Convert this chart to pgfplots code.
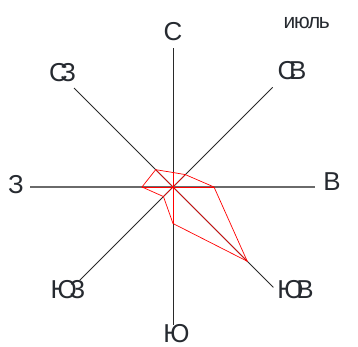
\documentclass[border=0pt]{standalone}
\usepackage{pgfplots}
\pgfplotsset{compat=1.18}
\usepgfplotslibrary{polar}
\usepackage{fontspec}
\setmainfont{Liberation Sans}
\newfontfamily\lblfont{Liberation Sans}[LetterSpace=-28]
\newfontfamily\ttlfont{Liberation Sans}[LetterSpace=-6]
\definecolor{ax}{HTML}{2A2A2A}
\definecolor{axh}{HTML}{6A6A6A}
\definecolor{txt}{HTML}{262A30}
\begin{document}
\begin{tikzpicture}
\path[use as bounding box] (-173bp,-160bp) rectangle (185bp,187bp);
\begin{polaraxis}[at={(0,0)}, anchor=center, scale only axis,
  width=284bp, height=284bp, ymin=0, ymax=142,
  xtick=\empty, ytick=\empty, axis line style={draw=none}, clip=false]
% direction axes
\addplot[ax, line width=0.8bp] coordinates {(0,0) (90,139)};
\addplot[ax, line width=0.8bp] coordinates {(0,0) (270,138)};
\addplot[ax, line width=0.8bp] coordinates {(0,0) (45,141)};
\addplot[ax, line width=0.8bp] coordinates {(0,0) (135,140)};
\addplot[ax, line width=0.8bp] coordinates {(0,0) (225,132)};
\addplot[ax, line width=0.8bp] coordinates {(0,0) (315,142)};
\addplot[axh, line width=1.2bp] coordinates {(0,0) (0,142)};
\addplot[axh, line width=1.2bp] coordinates {(0,0) (180,143)};
% wind rose (July)
\addplot[red, line width=0.7bp] coordinates {(90,14.5) (45,17.5) (0,41) (315,105) (270,36.5) (225,13.5) (180,31) (135,24.5) (90,14.5)};
\addplot[red, line width=0.7bp] coordinates {(0,0) (90,14.5)};
\addplot[red, line width=0.7bp] coordinates {(0,0) (45,17.5)};
\addplot[red, line width=0.7bp] coordinates {(0,0) (0,41)};
\addplot[red, line width=0.7bp] coordinates {(0,0) (315,105)};
\addplot[red, line width=0.7bp] coordinates {(0,0) (270,36.5)};
\addplot[red, line width=0.7bp] coordinates {(0,0) (225,13.5)};
\addplot[red, line width=0.7bp] coordinates {(0,0) (180,31)};
\addplot[red, line width=0.7bp] coordinates {(0,0) (135,24.5)};
\end{polaraxis}
\begin{scope}[every node/.style={text=txt, font=\lblfont\fontsize{26}{28}\selectfont, inner sep=0pt}]
\node at (0bp,155bp) {С};
\node at (119bp,116.5bp) {СВ};
\node at (159bp,5bp) {В};
\node at (122.5bp,-103bp) {ЮВ};
\node at (3.5bp,-146.5bp) {Ю};
\node at (-105bp,-103bp) {ЮЗ};
\node at (-157bp,2bp) {З};
\node at (-110.5bp,114bp) {СЗ};
\end{scope}
\node[text=txt, font=\ttlfont\fontsize{21}{23}\selectfont, inner sep=0pt, anchor=base] at (133.7bp,158bp) {июль};
\end{tikzpicture}
\end{document}
